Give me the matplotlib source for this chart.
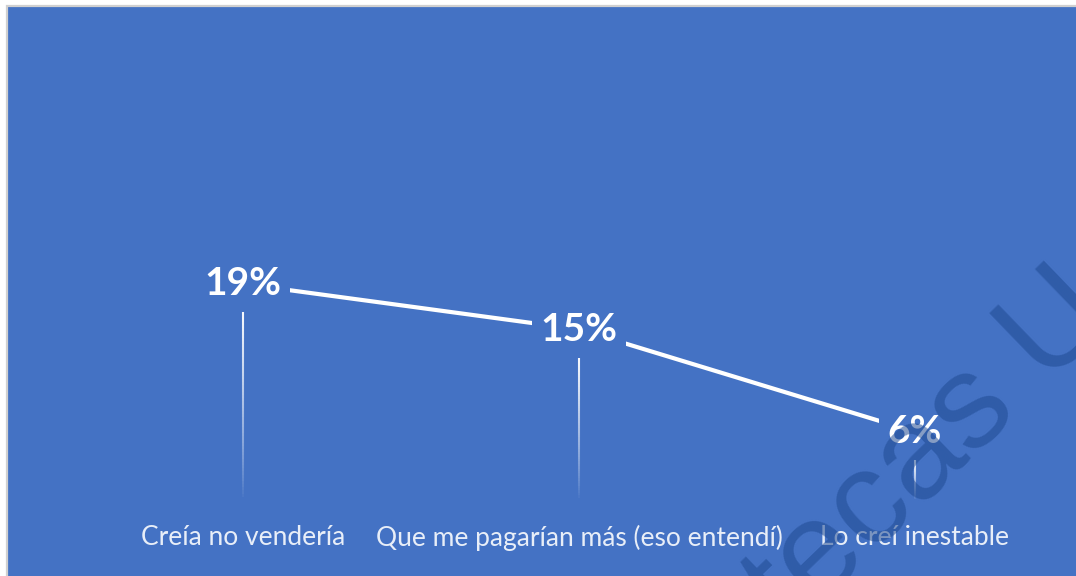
import numpy as np
import matplotlib
matplotlib.use("Agg")
import matplotlib.pyplot as plt
from matplotlib.patches import Rectangle
from matplotlib.collections import LineCollection

# ===== Datos =====
categorias = ["Creía no vendería", "Que me pagarían más (eso entendí)", "Lo creí inestable"]
porcentajes = [19, 15, 6]
etiquetas = ["19%", "15%", "6%"]

azul = "#4472C4"
W, H = 1076, 576

fig = plt.figure(figsize=(W / 100, H / 100), dpi=100)
fig.patch.set_facecolor("white")

# fondo azul con borde gris (marco del gráfico)
fondo = Rectangle((7 / W, -0.01), 1.0, (H - 5.5) / H + 0.01,
                  transform=fig.transFigure, facecolor=azul,
                  edgecolor="#D0D0D0", linewidth=1.6, zorder=-10)
fig.patches.append(fondo)

ax = fig.add_axes([75 / W, 76 / H, 1008 / W, 455 / H])
ax.set_facecolor("none")
x = np.arange(len(categorias))

ax.plot(x, porcentajes, color="white", lw=3, solid_capstyle="butt", zorder=2)

for xi, v, txt in zip(x, porcentajes, etiquetas):
    ax.text(xi, v, txt, ha="center", va="center", fontsize=28, fontweight="bold",
            color="white", family="Lato", zorder=3,
            bbox=dict(boxstyle="square,pad=0.22", fc=azul, ec="none"))
    # líneas de proyección que se desvanecen
    ys = np.linspace(v - 2.5, 0, 60)
    segs = [[(xi, ys[i]), (xi, ys[i + 1])] for i in range(len(ys) - 1)]
    alphas = np.linspace(0.95, 0.0, len(segs)) ** 0.8
    ax.add_collection(LineCollection(segs, colors=[(1, 1, 1, a) for a in alphas],
                                     linewidths=1.5, zorder=1))

ax.set_xlim(-0.5, 2.5)
ax.set_ylim(0, 40)
ax.set_xticks(x, categorias)
ax.tick_params(axis="x", length=0, pad=18, labelsize=19, labelcolor="#E8EEF8")
for lab in ax.get_xticklabels():
    lab.set_family("Lato")
ax.set_yticks([])
for s in ax.spines.values():
    s.set_visible(False)

# marca de agua
fig.text(1180 / W, 318 / H, "Bibliotecas UA", ha="right", va="baseline",
         rotation=44, rotation_mode="anchor", fontsize=96, family="Liberation Sans",
         color="#1F4A92", alpha=0.55, zorder=10)

fig.savefig("out.png", dpi=100)
